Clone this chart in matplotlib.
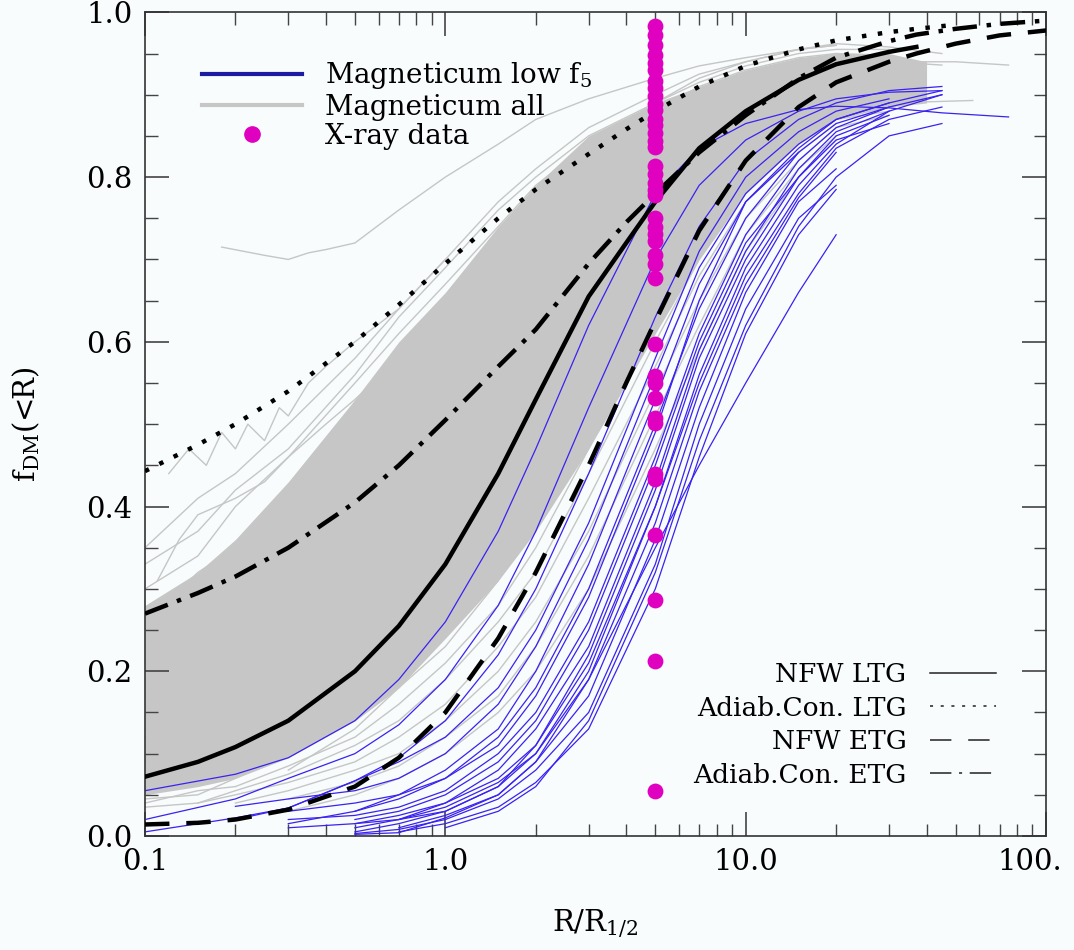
import numpy as np
import matplotlib
matplotlib.use("Agg")
import matplotlib.pyplot as plt
import matplotlib.transforms as mtransforms
from matplotlib.lines import Line2D
from matplotlib.ticker import FixedLocator, FixedFormatter, NullFormatter

plt.rcParams['font.family'] = ['DejaVu Serif']
plt.rcParams['mathtext.fontset'] = 'dejavuserif'

nan = np.nan

# model curves
model_x = [0.1, 0.15, 0.2, 0.3, 0.5, 0.7, 1.0, 1.5, 2.0, 3.0, 4.0, 5.0, 7.0, 10, 15, 20, 30, 37, 50, 70, 100]
nfw_ltg = [0.072, 0.09, 0.108, 0.14, 0.2, 0.255, 0.33, 0.44, 0.53, 0.655, 0.72, 0.77, 0.835, 0.88, 0.918, 0.937, 0.952, 0.958, nan, nan, nan]
adiab_ltg = [0.443, 0.475, 0.5, 0.54, 0.6, 0.645, 0.695, 0.75, 0.785, 0.828, 0.858, 0.88, 0.91, 0.935, 0.955, 0.966, 0.976, 0.98, 0.985, nan, nan]
nfw_etg = [0.014, 0.016, 0.02, 0.032, 0.06, 0.095, 0.15, 0.24, 0.32, 0.45, 0.55, 0.625, 0.735, 0.82, 0.885, 0.915, 0.94, 0.95, 0.962, 0.972, 0.978]
adiab_etg = [0.27, 0.295, 0.315, 0.35, 0.405, 0.45, 0.505, 0.57, 0.615, 0.695, 0.745, 0.78, 0.83, 0.875, 0.92, 0.945, 0.965, 0.973, 0.98, 0.986, 0.99]

# X-ray data, all at R/R_1/2 = 5
xray_x = 5.0
xray_f = [0.984, 0.972, 0.960, 0.948, 0.939, 0.930, 0.917, 0.908, 0.899, 0.889, 0.881, 0.871,
          0.863, 0.853, 0.844, 0.836, 0.814, 0.804, 0.793, 0.784, 0.778, 0.750, 0.739, 0.731,
          0.723, 0.705, 0.695, 0.677, 0.597, 0.558, 0.550, 0.532, 0.507, 0.502, 0.440, 0.433,
          0.365, 0.286, 0.213, 0.055]

# Magneticum all (sample of individual profiles)
gray_x = [0.1, 0.15, 0.2, 0.3, 0.5, 0.7, 1.0, 1.5, 2.0, 3.0, 5.0, 7.0, 10, 15, 20, 30, 45]
gray_curves = [
    [0.35, 0.41, 0.44, 0.50, 0.58, 0.64, 0.70, 0.77, 0.81, 0.86, 0.90, 0.925, 0.94, 0.955, 0.96, nan, nan],
    [0.30, 0.34, 0.40, 0.46, 0.55, 0.61, 0.67, 0.74, 0.79, 0.84, 0.89, 0.915, 0.935, 0.95, 0.955, 0.955, nan],
    [0.26, 0.32, 0.35, 0.42, 0.51, 0.57, 0.64, 0.72, 0.77, 0.83, 0.88, 0.91, 0.93, 0.945, 0.95, nan, nan],
    [0.23, 0.27, 0.33, 0.39, 0.48, 0.55, 0.62, 0.70, 0.75, 0.82, 0.875, 0.905, 0.925, 0.94, 0.95, 0.948, nan],
    [0.21, 0.26, 0.28, 0.36, 0.45, 0.52, 0.59, 0.67, 0.73, 0.80, 0.87, 0.90, 0.92, 0.935, 0.945, nan, nan],
    [0.19, 0.22, 0.27, 0.33, 0.42, 0.49, 0.56, 0.65, 0.71, 0.79, 0.86, 0.895, 0.915, 0.93, 0.94, 0.945, nan],
    [0.17, 0.22, 0.24, 0.31, 0.40, 0.46, 0.53, 0.62, 0.69, 0.77, 0.85, 0.885, 0.91, 0.93, 0.935, nan, nan],
    [0.16, 0.18, 0.23, 0.29, 0.37, 0.44, 0.51, 0.60, 0.67, 0.76, 0.84, 0.88, 0.905, 0.925, 0.935, 0.94, nan],
    [0.15, 0.19, 0.20, 0.27, 0.35, 0.41, 0.48, 0.57, 0.64, 0.74, 0.83, 0.87, 0.90, 0.92, 0.93, nan, nan],
    [0.13, 0.16, 0.20, 0.25, 0.33, 0.39, 0.46, 0.55, 0.62, 0.72, 0.82, 0.865, 0.895, 0.915, 0.925, 0.93, nan],
    [0.12, 0.16, 0.17, 0.23, 0.31, 0.37, 0.43, 0.52, 0.60, 0.70, 0.80, 0.855, 0.89, 0.91, 0.92, nan, nan],
    [0.11, 0.13, 0.17, 0.21, 0.29, 0.35, 0.41, 0.50, 0.58, 0.68, 0.79, 0.845, 0.88, 0.905, 0.915, 0.92, nan],
    [0.10, 0.13, 0.14, 0.20, 0.27, 0.33, 0.39, 0.48, 0.55, 0.66, 0.77, 0.835, 0.875, 0.90, 0.91, nan, nan],
    [0.09, 0.11, 0.15, 0.18, 0.25, 0.30, 0.37, 0.45, 0.53, 0.64, 0.76, 0.825, 0.87, 0.895, 0.91, 0.915, nan],
    [0.08, 0.11, 0.11, 0.17, 0.23, 0.28, 0.35, 0.43, 0.50, 0.62, 0.74, 0.81, 0.86, 0.89, 0.905, nan, nan],
    [0.07, 0.09, 0.12, 0.15, 0.21, 0.26, 0.32, 0.40, 0.48, 0.60, 0.73, 0.80, 0.85, 0.885, 0.90, 0.91, nan],
    [0.065, 0.085, 0.10, 0.14, 0.19, 0.24, 0.30, 0.38, 0.45, 0.57, 0.71, 0.785, 0.84, 0.88, 0.895, nan, nan],
    [0.06, 0.07, 0.095, 0.12, 0.17, 0.22, 0.28, 0.36, 0.43, 0.55, 0.69, 0.77, 0.83, 0.87, 0.89, 0.90, nan],
    [0.05, 0.07, 0.08, 0.11, 0.15, 0.20, 0.26, 0.33, 0.40, 0.52, 0.67, 0.755, 0.82, 0.865, 0.885, nan, nan],
    [0.045, 0.05, 0.07, 0.10, 0.14, 0.18, 0.23, 0.31, 0.38, 0.50, 0.65, 0.74, 0.81, 0.86, 0.88, 0.89, nan],
    [0.04, 0.055, 0.06, 0.085, 0.12, 0.16, 0.21, 0.28, 0.35, 0.47, 0.63, 0.72, 0.80, 0.85, 0.875, nan, nan],
    [0.035, 0.04, 0.055, 0.075, 0.11, 0.14, 0.19, 0.26, 0.32, 0.44, 0.60, 0.70, 0.78, 0.84, 0.87, 0.88, nan],
    [nan, 0.04, 0.05, 0.065, 0.09, 0.12, 0.16, 0.23, 0.29, 0.41, 0.57, 0.68, 0.77, 0.83, 0.865, nan, nan],
    [nan, nan, 0.04, 0.055, 0.08, 0.10, 0.14, 0.20, 0.26, 0.37, 0.54, 0.65, 0.75, 0.82, 0.86, 0.875, nan],
    [nan, nan, nan, 0.045, 0.065, 0.085, 0.12, 0.17, 0.23, 0.34, 0.51, 0.62, 0.73, 0.81, 0.85, nan, nan],
    [nan, nan, nan, 0.03, 0.05, 0.07, 0.10, 0.15, 0.20, 0.30, 0.47, 0.59, 0.71, 0.80, 0.845, nan, nan],
    [0.33, 0.37, 0.42, 0.47, 0.56, 0.63, 0.69, 0.76, 0.80, 0.85, 0.89, 0.92, 0.94, 0.955, 0.962, 0.958, 0.95],
    [0.09, 0.14, 0.16, 0.22, 0.33, 0.41, 0.50, 0.60, 0.68, 0.77, 0.86, 0.90, 0.925, 0.94, 0.945, 0.94, 0.936],
]
gray_odd_x = [
    [0.18, 0.25, 0.3, 0.35, 0.4, 0.5, 0.7, 1.0, 1.5, 2.0, 3.0, 5.0, 7.0, 10, 15, 20],
    [0.12, 0.14, 0.16, 0.18, 0.2, 0.22, 0.25, 0.28, 0.3, 0.35, 0.4, 0.5, 0.7, 1.0],
    [0.11, 0.13, 0.15, 0.2, 0.25, 0.3, 0.4, 0.5, 0.7, 1.0],
    [0.5, 0.7, 1.0, 1.5, 2.0, 3.0, 5.0, 7.0, 10, 15, 20, 30, 50, 75],
    [0.3, 0.5, 0.7, 1.0, 1.5, 2.0, 3.0, 5.0, 7.0, 10, 15, 20, 30, 57],
]
gray_odd_y = [
    [0.715, 0.705, 0.70, 0.708, 0.712, 0.72, 0.76, 0.80, 0.84, 0.87, 0.895, 0.92, 0.935, 0.945, 0.955, 0.96],
    [0.44, 0.47, 0.45, 0.49, 0.47, 0.50, 0.48, 0.52, 0.51, 0.55, 0.57, 0.60, 0.64, 0.70],
    [0.31, 0.36, 0.39, 0.41, 0.43, 0.46, 0.50, 0.53, 0.58, 0.64],
    [0.36, 0.44, 0.52, 0.62, 0.69, 0.78, 0.86, 0.895, 0.915, 0.93, 0.935, 0.94, 0.94, 0.936],
    [0.08, 0.13, 0.18, 0.25, 0.34, 0.42, 0.55, 0.70, 0.78, 0.84, 0.87, 0.885, 0.89, 0.893],
]
# densest part of the Magneticum band
core_x = [0.1, 0.15, 0.2, 0.3, 0.5, 0.7, 1.0, 1.5, 2.0, 3.0, 5.0, 7.0, 10, 15, 20, 30, 40]
core_lo = [0.05, 0.06, 0.07, 0.095, 0.14, 0.18, 0.24, 0.31, 0.37, 0.47, 0.61, 0.70, 0.78, 0.84, 0.87, 0.885, 0.89]
core_hi = [0.28, 0.32, 0.36, 0.43, 0.53, 0.60, 0.66, 0.74, 0.79, 0.85, 0.89, 0.91, 0.93, 0.945, 0.95, 0.95, 0.94]

# Magneticum low f5
blue_x = [0.1, 0.2, 0.3, 0.5, 0.7, 1.0, 1.5, 2.0, 3.0, 5.0, 7.0, 10, 15, 20, 30, 45, 75]
blue_curves = [
    [0.055, 0.075, 0.095, 0.14, 0.19, 0.26, 0.37, 0.47, 0.62, 0.78, 0.835, 0.865, 0.882, 0.886, 0.884, 0.878, 0.873],
    [0.02, 0.045, 0.07, 0.10, 0.135, 0.19, 0.28, 0.37, 0.52, 0.70, 0.79, 0.845, 0.88, 0.895, 0.903, 0.905, nan],
    [0.005, 0.022, 0.034, 0.067, 0.095, 0.14, 0.22, 0.30, 0.44, 0.63, 0.74, 0.82, 0.87, 0.89, 0.905, 0.91, nan],
    [nan, nan, 0.015, 0.03, 0.045, 0.07, 0.12, 0.18, 0.30, 0.50, 0.64, 0.75, 0.83, 0.865, 0.885, nan, nan],
    [nan, nan, 0.02, 0.025, 0.035, 0.055, 0.10, 0.15, 0.26, 0.46, 0.61, 0.73, 0.82, 0.86, 0.885, 0.90, nan],
    [nan, nan, nan, 0.01, 0.02, 0.04, 0.08, 0.13, 0.23, 0.43, 0.59, 0.71, 0.81, 0.855, 0.88, nan, nan],
    [nan, nan, nan, 0.02, 0.03, 0.05, 0.09, 0.14, 0.25, 0.45, 0.60, 0.72, 0.80, 0.845, 0.865, nan, nan],
    [nan, nan, 0.01, 0.015, 0.025, 0.04, 0.07, 0.11, 0.21, 0.40, 0.56, 0.69, 0.79, 0.84, 0.88, 0.90, nan],
    [nan, nan, nan, 0.005, 0.015, 0.03, 0.06, 0.10, 0.19, 0.38, 0.54, 0.67, 0.775, 0.83, nan, nan, nan],
    [nan, nan, nan, nan, 0.01, 0.025, 0.05, 0.09, 0.17, 0.36, 0.52, 0.66, 0.77, 0.81, nan, nan, nan],
    [nan, nan, nan, 0.003, 0.008, 0.02, 0.045, 0.08, 0.15, 0.33, 0.50, 0.64, 0.75, 0.79, nan, nan, nan],
    [nan, nan, nan, nan, 0.005, 0.015, 0.035, 0.065, 0.13, 0.30, 0.46, 0.61, 0.73, 0.785, nan, nan, nan],
    [nan, nan, nan, 0.002, 0.004, 0.022, 0.05, 0.09, 0.19, 0.35, 0.45, 0.55, 0.66, 0.73, nan, nan, nan],
    [nan, nan, nan, nan, nan, 0.01, 0.03, 0.06, 0.14, 0.32, 0.48, 0.62, 0.74, 0.80, 0.85, 0.865, nan],
    [nan, nan, 0.03, 0.04, 0.05, 0.07, 0.11, 0.17, 0.29, 0.49, 0.65, 0.77, 0.83, nan, nan, nan, nan],
    [nan, 0.036, 0.045, 0.055, 0.07, 0.10, 0.16, 0.23, 0.36, 0.56, 0.69, 0.78, 0.84, 0.87, 0.89, 0.905, nan],
    [nan, nan, nan, 0.03, 0.05, 0.08, 0.13, 0.20, 0.33, 0.53, 0.67, 0.77, 0.835, 0.87, 0.89, nan, nan],
    [nan, nan, nan, nan, 0.02, 0.035, 0.065, 0.10, 0.20, 0.40, 0.55, 0.68, 0.78, 0.835, 0.87, 0.885, nan],
    [nan, 0.02, 0.034, 0.067, 0.09, 0.12, 0.18, 0.25, 0.38, 0.58, 0.71, 0.80, 0.855, 0.88, 0.895, nan, nan],
    [nan, nan, nan, 0.015, 0.02, 0.03, 0.06, 0.11, 0.22, 0.42, 0.58, 0.70, 0.80, 0.85, 0.875, nan, nan],
]

x_ticks = [0.1, 1.0, 10.0, 100.0]
x_ticklabels = ['0.1', '1.0', '10.0', '100.']
y_ticks = [0.0, 0.2, 0.4, 0.6, 0.8, 1.0]
y_ticklabels = ['0.0', '0.2', '0.4', '0.6', '0.8', '1.0']

bg = '#f8fcfc'
gray = '#c6c6c6'
blue = '#3a22f0'
magenta = '#e000bf'

fig = plt.figure(figsize=(10.74, 9.5), dpi=100, facecolor=bg)
ax = fig.add_axes([0.135, 0.12, 0.839, 0.867], facecolor=bg)

ax.fill_between(core_x, core_lo, core_hi, color=gray, lw=0, zorder=1)
for ys in gray_curves:
    ax.plot(gray_x, ys, color=gray, lw=1.0, zorder=1)
for xs, ys in zip(gray_odd_x, gray_odd_y):
    ax.plot(xs, ys, color=gray, lw=1.0, zorder=1)
for ys in blue_curves:
    ax.plot(blue_x, ys, color=blue, lw=0.9, zorder=2)

ax.plot(model_x, adiab_ltg, color='black', lw=3.2, linestyle=(0, (1, 2.6)), zorder=3)
ax.plot(model_x, adiab_etg, color='black', lw=3.2, linestyle=(0, (5.5, 2.2, 1, 2.2)), zorder=3)
ax.plot(model_x, nfw_ltg, color='black', lw=3.2, zorder=3)
ax.plot(model_x, nfw_etg, color='black', lw=3.2, linestyle=(0, (5.5, 3.8)), zorder=3)

ax.scatter([xray_x] * len(xray_f), xray_f, s=130, color=magenta, zorder=4, linewidths=0)

ax.set_xscale('log')
ax.set_xlim(0.1, 100)
ax.set_ylim(0.0, 1.0)
ax.xaxis.set_major_locator(FixedLocator(x_ticks))
ax.xaxis.set_major_formatter(FixedFormatter(x_ticklabels))
ax.xaxis.set_minor_formatter(NullFormatter())
ax.set_yticks(y_ticks)
ax.set_yticklabels(y_ticklabels)
ax.set_yticks(np.arange(0.05, 1.0, 0.05), minor=True)
ax.tick_params(which='both', direction='in', top=True, right=True, labelsize=21, color='#444444')
ax.tick_params(which='major', length=17, width=1.2, pad=9)
ax.tick_params(which='minor', length=9, width=1.0)
for s in ax.spines.values():
    s.set_linewidth(1.2)
    s.set_color('#333333')

# shift the last x label a little to the left so it stays inside the image
last = ax.xaxis.get_major_ticks()[-1].label1
last.set_transform(last.get_transform() + mtransforms.ScaledTranslation(-12 / 72, 0, fig.dpi_scale_trans))

ax.set_xlabel(r'R/R$_{1/2}$', fontsize=21, labelpad=22)
ax.set_ylabel(r'f$_{\rm DM}$(<R)', fontsize=21, labelpad=32)

h1 = [Line2D([], [], color='#1c1ca0', lw=3),
      Line2D([], [], color=gray, lw=3),
      Line2D([], [], color=magenta, marker='o', ls='none', markersize=11)]
leg1 = ax.legend(h1, [r'Magneticum low f$_5$', 'Magneticum all', 'X-ray data'],
                 loc='upper left', bbox_to_anchor=(0.036, 0.972), frameon=False,
                 fontsize=20, handlelength=3.6, labelspacing=0.08, handletextpad=0.8)
ax.add_artist(leg1)

h2 = [Line2D([], [], color='#222222', lw=1.1),
      Line2D([], [], color='#222222', lw=1.1, ls=(0, (2, 5))),
      Line2D([], [], color='#222222', lw=1.1, ls=(0, (14, 11))),
      Line2D([], [], color='#222222', lw=1.1, ls=(0, (14, 5, 2, 5)))]
ax.legend(h2, ['NFW LTG', 'Adiab.Con. LTG', 'NFW ETG', 'Adiab.Con. ETG'],
          loc='lower right', bbox_to_anchor=(0.971, 0.03), frameon=False,
          fontsize=19, handlelength=2.5, labelspacing=0.32, handletextpad=0.9,
          markerfirst=False)

fig.savefig('out.png', dpi=100, facecolor=bg)
